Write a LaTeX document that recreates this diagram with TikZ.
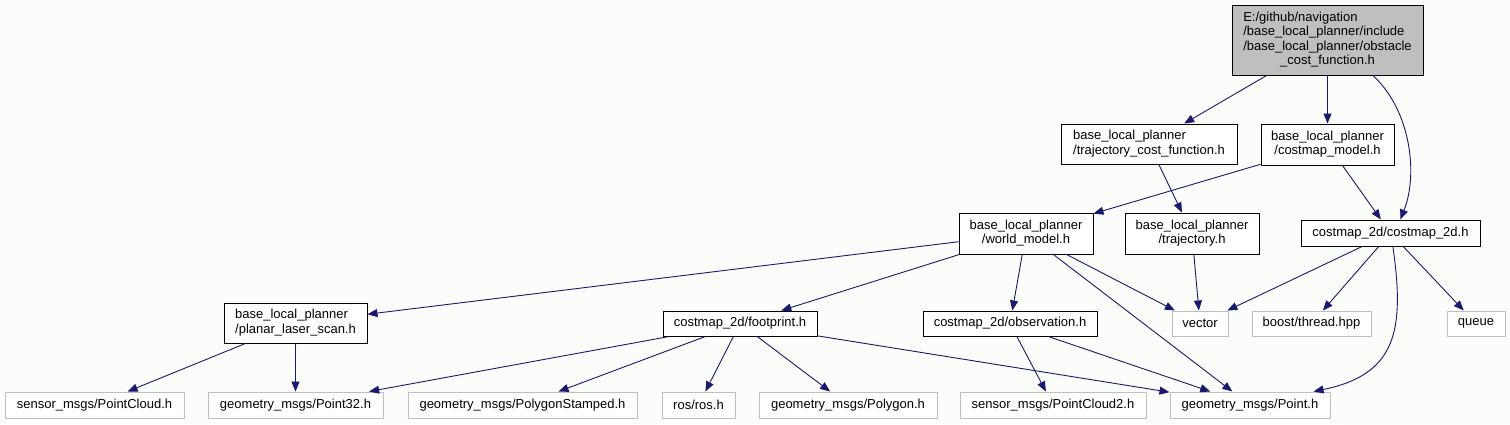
\documentclass[tikz,border=0pt]{standalone}
\usepackage{fontspec}
\setmainfont{Liberation Sans}
\usetikzlibrary{arrows.meta, calc}

\definecolor{edgeblue}{HTML}{191970}
\definecolor{leafgray}{HTML}{BFBFBF}
\definecolor{pagebg}{RGB}{251,253,251}

% two block label: upper lines flush left, last line centred
\newcommand{\hlabel}[2]{\begin{tabular}{@{}l@{}}#1\\\multicolumn{1}{@{}c@{}}{#2}\end{tabular}}

\begin{document}
\begin{tikzpicture}[
    x=1pt, y=1pt,
    header/.style={
        rectangle, draw=black, line width=1pt,
        fill=white, inner sep=0pt,
        font=\fontsize{13}{14.5}\selectfont
    },
    current/.style={header, fill=leafgray},
    extern/.style={header, draw=leafgray, minimum height=26pt},
    dep/.style={
        draw=edgeblue, line width=0.9pt,
        -{Triangle[length=10pt, width=8pt]}
    }
]

    % Page ===========================
    \fill[pagebg] (0,0) rectangle (1510,-424);

    % The project headers ===========================
    \node[current, minimum width=191pt, minimum height=70pt] (obstacle) at (1327.5,-40) {
        \hlabel{E:/github/navigation\\/base\_local\_planner/include\\/base\_local\_planner/obstacle}{\_cost\_function.h}
    };
    \node[header, minimum width=176pt, minimum height=40pt] (trajcost) at (1149,-144) {
        \hlabel{base\_local\_planner}{/trajectory\_cost\_function.h}
    };
    \node[header, minimum width=133pt, minimum height=41pt] (costmodel) at (1327.5,-144.5) {
        \hlabel{base\_local\_planner}{/costmap\_model.h}
    };
    \node[header, minimum width=134pt, minimum height=41pt] (worldmodel) at (1026,-233.5) {
        \hlabel{base\_local\_planner}{/world\_model.h}
    };
    \node[header, minimum width=134pt, minimum height=41pt] (trajectory) at (1192,-233.5) {
        \hlabel{base\_local\_planner}{/trajectory.h}
    };
    \node[header, minimum width=179pt, minimum height=26pt] (costmap) at (1390.5,-233) {costmap\_2d/costmap\_2d.h};
    \node[header, minimum width=143pt, minimum height=40pt] (laserscan) at (295.5,-323) {
        \hlabel{base\_local\_planner}{/planar\_laser\_scan.h}
    };
    \node[header, minimum width=154pt, minimum height=25pt] (footprint) at (740,-323.5) {costmap\_2d/footprint.h};
    \node[header, minimum width=174pt, minimum height=25pt] (observation) at (1010,-323.5) {costmap\_2d/observation.h};

    % External headers ===========================
    \node[extern, minimum width=56pt, minimum height=25pt] (vector) at (1200,-323.5) {vector};
    \node[extern, minimum width=119pt, minimum height=25pt] (thread) at (1311.5,-323.5) {boost/thread.hpp};
    \node[extern, minimum width=58pt, minimum height=25pt] (queue) at (1476,-323.5) {queue};

    \node[extern, minimum width=179pt] (pointcloud) at (94.5,-405) {sensor\_msgs/PointCloud.h};
    \node[extern, minimum width=175pt] (point32) at (295.5,-405) {geometry\_msgs/Point32.h};
    \node[extern, minimum width=229pt] (polystamped) at (522.5,-405) {geometry\_msgs/PolygonStamped.h};
    \node[extern, minimum width=73pt] (ros) at (698.5,-405) {ros/ros.h};
    \node[extern, minimum width=178pt] (polygon) at (848,-405) {geometry\_msgs/Polygon.h};
    \node[extern, minimum width=186pt] (pointcloud2) at (1053,-405) {sensor\_msgs/PointCloud2.h};
    \node[extern, minimum width=160pt] (point) at (1250,-405) {geometry\_msgs/Point.h};

    % Include edges ====================
    % From obstacle_cost_function.h
    \draw[dep] (obstacle) -- (trajcost);
    \draw[dep] (obstacle) -- (costmodel);
    \draw[dep] (obstacle.-38) .. controls +(38,-35) and +(18,45) .. (costmap.54);

    % From the second row
    \draw[dep] (trajcost) -- (trajectory);
    \draw[dep] (costmodel) -- (worldmodel);
    \draw[dep] (costmodel) -- (costmap);

    % From world_model.h
    \draw[dep] (worldmodel) -- (laserscan);
    \draw[dep] (worldmodel) -- (footprint);
    \draw[dep] (worldmodel) -- (observation);
    \draw[dep] (worldmodel) -- (vector);
    \draw[dep] (worldmodel) -- (point);

    % From trajectory.h and costmap_2d.h
    \draw[dep] (trajectory) -- (vector);
    \draw[dep] (costmap) -- (vector);
    \draw[dep] (costmap) -- (thread);
    \draw[dep] (costmap) -- (queue);
    \draw[dep] (costmap.-80) .. controls +(12,-84) and +(83,17) .. (point.12);

    % From the third row
    \draw[dep] (laserscan) -- (pointcloud);
    \draw[dep] (laserscan) -- (point32);
    \draw[dep] (footprint) -- (point32);
    \draw[dep] (footprint) -- (polystamped);
    \draw[dep] (footprint) -- (ros);
    \draw[dep] (footprint) -- (polygon);
    \draw[dep] (footprint) -- (point);
    \draw[dep] (observation) -- (pointcloud2);
    \draw[dep] (observation) -- (point);

\end{tikzpicture}
\end{document}
